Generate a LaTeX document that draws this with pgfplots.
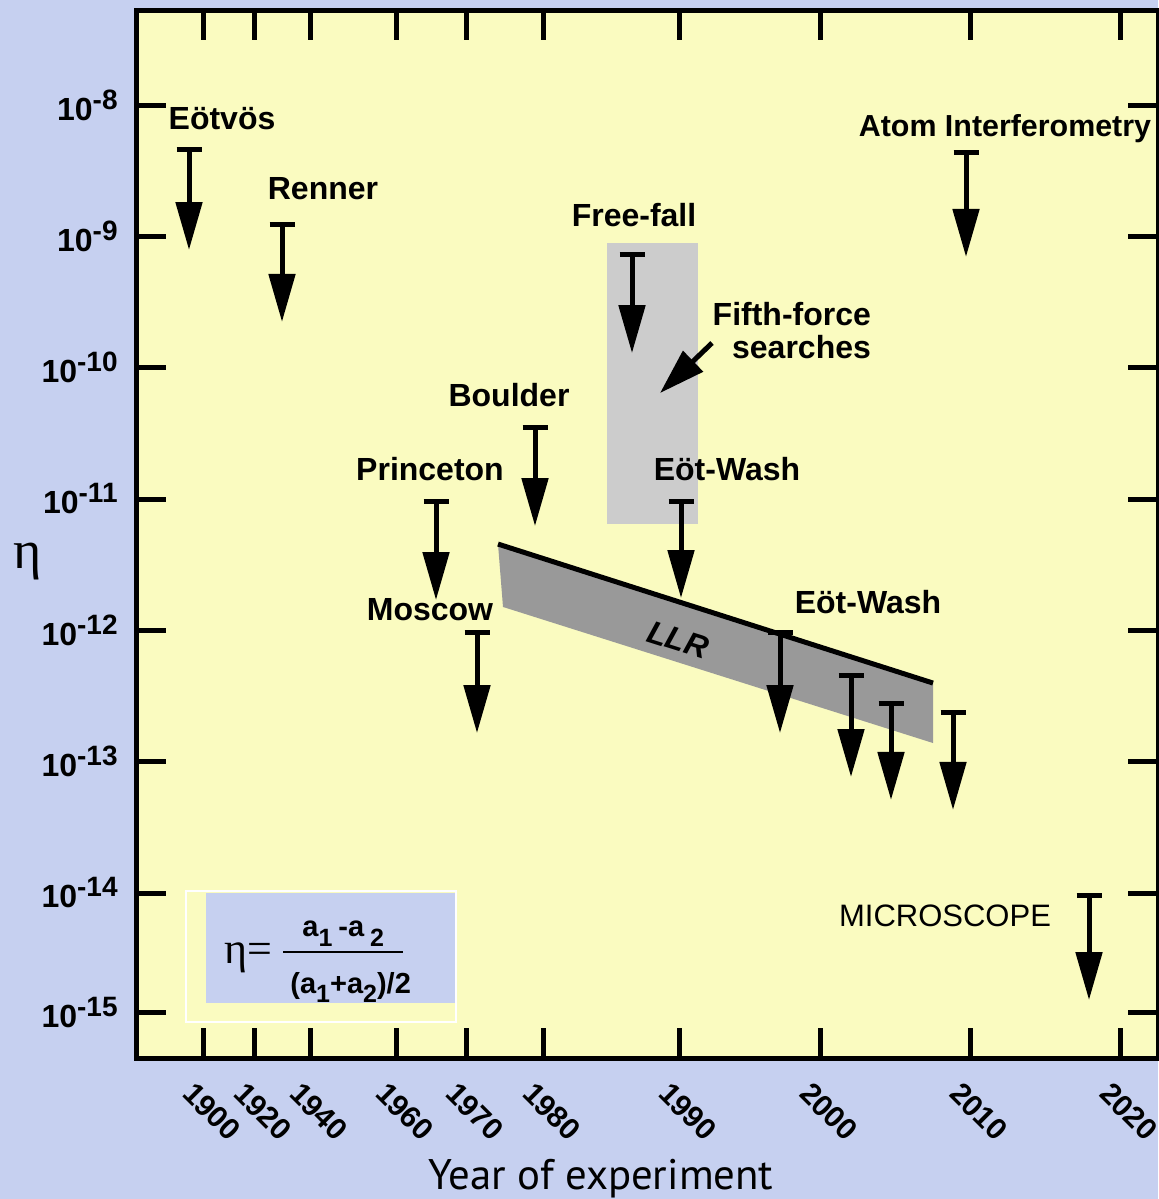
\documentclass[border=0pt]{standalone}
\usepackage{pgfplots}
\pgfplotsset{compat=1.18}
\usetikzlibrary{arrows.meta}
\usepackage{fontspec}
\setmainfont{Liberation Sans}
\newfontfamily\serif{Liberation Serif}
\newfontfamily\xlabfont{PT Sans}
\definecolor{bgblue}{RGB}{198,208,240}
\definecolor{plotyellow}{RGB}{250,251,192}
\definecolor{ffgray}{RGB}{204,204,204}
\definecolor{llrgray}{RGB}{153,153,153}
\newcommand{\tl}[1]{\textbf{10\raisebox{5.5pt}{\fontsize{14}{14}\selectfont\bfseries #1}}}
\newcommand{\lab}{\fontsize{16}{16}\selectfont\bfseries}
\newcommand{\sub}[1]{\raisebox{-5pt}{\fontsize{12.5}{13}\selectfont\bfseries #1}}
\tikzset{lim/.style={line width=2.5pt, {Bar[width=12.5pt]}-{Triangle[length=24pt,width=13pt]}}}
\begin{document}
\begin{tikzpicture}
\fill[bgblue] (-68pt,-70.5pt) rectangle (511pt,529pt);
\begin{axis}[
  at={(0pt,0pt)}, anchor=south west, scale only axis,
  width=511pt, height=524pt,
  xmin=136, xmax=1158,
  ymode=log, ymin=5.54e-16, ymax=5.29e-8,
  axis background/.style={fill=plotyellow},
  axis line style={line width=2.5pt, black},
  clip=false,
  tick align=inside, major tick length=15pt,
  tick style={black, line width=2.5pt},
  xtick pos=both, ytick pos=both,
  xminorticks=false, yminorticks=false,
  xtick={203,254,310,396,466,543,679,820,970,1120},
  xticklabels={1900,1920,1940,1960,1970,1980,1990,2000,2010,2020},
  ytick={1e-8,1e-9,1e-10,1e-11,1e-12,1e-13,1e-14,1.22e-15},
  yticklabels={\tl{-8},\tl{-9},\tl{-10},\tl{-11},\tl{-12},\tl{-13},\tl{-14},\tl{-15}},
  ticklabel style={font=\fontsize{15}{18}\selectfont\bfseries, inner sep=0pt},
  xticklabel style={xshift=-3.5pt, yshift=-11pt, rotate=-45, anchor=north west},
  yticklabel style={font=\fontsize{16}{18}\selectfont\bfseries, anchor=east, xshift=-9pt},
  xlabel={\xlabfont\fontsize{21.4}{22}\selectfont Year of experiment},
  xlabel style={at={(axis description cs:0.455,-0.1150)}, anchor=center},
  ylabel={\serif\fontsize{27}{27}\selectfont η},
  ylabel style={rotate=-90, at={(axis description cs:-0.1057,0.4733)}, anchor=center},
]
% Free-fall / fifth-force region
\addplot[fill=ffgray, draw=none] coordinates {(607,8.89e-10) (698,8.89e-10) (698,6.46e-12) (607,6.46e-12)} --cycle;
% LLR band
\addplot[fill=llrgray, draw=none] coordinates {(498,4.54e-12) (933,3.97e-13) (933,1.387e-13) (503,1.507e-12)} --cycle;
\addplot[black, line width=2.5pt] coordinates {(498,4.54e-12) (933,3.97e-13)};
% upper limits
\addplot[lim] coordinates {(189,4.79e-9) (189,7.87e-10)};   % Eotvos
\addplot[lim] coordinates {(282,1.29e-9) (282,2.23e-10)};   % Renner
\addplot[lim] coordinates {(632,7.60e-10) (632,1.29e-10)};  % Free-fall
\addplot[lim] coordinates {(535,3.66e-11) (535,6.22e-12)};  % Boulder
\addplot[lim] coordinates {(436,1.00e-11) (436,1.70e-12)};  % Princeton
\addplot[lim] coordinates {(477,1.00e-12) (477,1.65e-13)};  % Moscow
\addplot[lim] coordinates {(681,1.00e-11) (681,1.76e-12)};  % Eot-Wash
\addplot[lim] coordinates {(780,1.00e-12) (780,1.65e-13)};  % Eot-Wash
\addplot[lim] coordinates {(851,4.73e-13) (851,7.64e-14)};  % Eot-Wash
\addplot[lim] coordinates {(891,2.90e-13) (891,5.11e-14)};  % Eot-Wash
\addplot[lim] coordinates {(953,2.47e-13) (953,4.29e-14)};  % Eot-Wash
\addplot[lim] coordinates {(966,4.54e-9) (966,6.97e-10)};   % Atom interferometry
\addplot[lim] coordinates {(1089,1.00e-14) (1089,1.53e-15)};% MICROSCOPE
% fifth-force pointer
\addplot[black, line width=2.5pt, -{Triangle[length=23pt,width=14pt]}] coordinates {(712,1.542e-10) (660,6.41e-11)};
\end{axis}
\begin{scope}[x=0.5pt, y=-0.5pt, shift={(-68pt,529pt)}]
  \node[anchor=base, font=\lab] at (222,130) {Eötvös};
  \node[anchor=base, font=\lab] at (323,200) {Renner};
  \node[anchor=base, font=\lab] at (634,227) {Free-fall};
  \node[anchor=base, font=\lab] at (509,407) {Boulder};
  \node[anchor=base, font=\lab] at (430,481) {Princeton};
  \node[anchor=base, font=\lab] at (430,621) {Moscow};
  \node[anchor=base, font=\lab] at (727,481) {Eöt-Wash};
  \node[anchor=base, font=\lab] at (868,614) {Eöt-Wash};
  \node[anchor=base, font=\fontsize{15.2}{16}\selectfont\bfseries] at (1005,137) {Atom Interferometry};
  \node[anchor=base, font=\fontsize{15.5}{16}\selectfont] at (945,927) {MICROSCOPE};
  \node[anchor=base east, font=\lab, align=right] at (878,359) {Fifth-force\\[0.6pt]searches};
  \node[rotate=-17.6, font=\fontsize{16}{16}\selectfont\bfseries\itshape] at (678,640) {LLR};
  % formula box
  \fill[bgblue] (206,893) rectangle (455,1003);
  \draw[white, line width=1pt] (186,891) rectangle (456,1022);
  \node[anchor=base, inner sep=0pt] at (248,964) {\serif\fontsize{22}{22}\selectfont η=};
  \node[anchor=base west, inner sep=0pt] at (302,937) {\fontsize{14.5}{15}\selectfont\bfseries a\sub{1}\hspace{3pt}-a\hspace{3pt}\sub{2}};
  \node[anchor=base west, inner sep=0pt] at (290,993) {\fontsize{14.5}{15}\selectfont\bfseries (a\sub{1}+a\sub{2})/2};
  \draw[black, line width=0.75pt] (283,952) -- (403,952);
\end{scope}
\pgfresetboundingbox
\path[use as bounding box] (-68pt,-70.5pt) rectangle (511pt,529pt);
\end{tikzpicture}
\end{document}
